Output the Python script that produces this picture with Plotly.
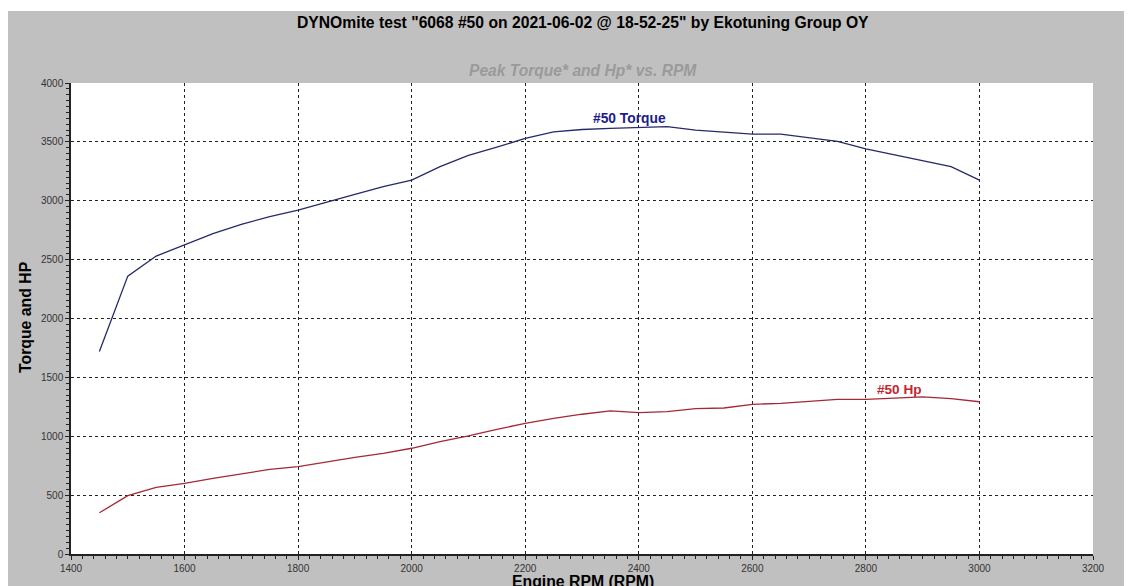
import plotly.graph_objects as go

rpm = [1450, 1500, 1550, 1600, 1650, 1700, 1750, 1800, 1850, 1900, 1950, 2000,
       2050, 2100, 2150, 2200, 2250, 2300, 2350, 2400, 2450, 2500, 2550, 2600,
       2650, 2700, 2750, 2800, 2850, 2900, 2950, 3000]
torque = [1720, 2360, 2530, 2625, 2720, 2800, 2865, 2920, 2990, 3055, 3120, 3175,
          3290, 3385, 3455, 3530, 3585, 3605, 3615, 3620, 3630, 3600, 3585, 3565,
          3565, 3535, 3505, 3440, 3390, 3340, 3290, 3175]
hp = [350, 495, 565, 600, 643, 680, 718, 742, 784, 820, 855, 898,
      955, 1003, 1058, 1110, 1152, 1187, 1215, 1200, 1209, 1234, 1240, 1271,
      1280, 1300, 1314, 1314, 1324, 1334, 1320, 1293]

title_text = 'DYNOmite test "6068 #50 on 2021-06-02 @ 18-52-25" by Ekotuning Group OY'
subtitle_text = "Peak Torque* and Hp* vs. RPM"
x_title = "Engine RPM (RPM)"
y_title = "Torque and HP"
torque_label = "#50 Torque"
hp_label = "#50 Hp"
footnote = "* Correction Method: Standard"

FONT = "Liberation Sans, Arial, sans-serif"
W, H = 1124, 578
L, R, T, B = 63, 39, 75, 32
PW, PH = W - L - R, H - T - B


def px(xp):
    # page pixel -> paper x (page has 8px body margin)
    return (xp - 8 - L) / PW


def py(yp):
    return (H - B - (yp - 8)) / PH


fig = go.Figure()
fig.add_trace(go.Scatter(x=rpm, y=torque, mode="lines",
                         line=dict(color="#26296b", width=1.3), showlegend=False))
fig.add_trace(go.Scatter(x=rpm, y=hp, mode="lines",
                         line=dict(color="#a32a35", width=1.3), showlegend=False))

ann = [
    dict(text="<b>" + title_text + "</b>", x=px(583), y=py(22),
         font=dict(size=15.7, color="#000000")),
    dict(text="<b><i>" + subtitle_text + "</i></b>", x=px(583), y=py(70),
         font=dict(size=15.6, color="#9a9a9a")),
    dict(text="<b>" + x_title + "</b>", x=px(583), y=py(581),
         font=dict(size=15.8, color="#000000")),
    dict(text="<b>" + y_title + "</b>", x=px(25), y=py(318), textangle=-90,
         font=dict(size=15.8, color="#000000")),
    dict(text=footnote, x=px(36), y=py(590), xanchor="left",
         font=dict(size=10, color="#777777")),
]
annotations = []
for a in ann:
    base = dict(xref="paper", yref="paper", showarrow=False,
                xanchor="center", yanchor="middle")
    base.update(a)
    base["font"] = dict(family=FONT, **a["font"])
    annotations.append(base)

annotations.append(dict(x=2383, y=3700, xref="x", yref="y", text="<b>" + torque_label + "</b>",
                        showarrow=False, font=dict(family=FONT, size=13.8, color="#1c1c8a")))
annotations.append(dict(x=2860, y=1393, xref="x", yref="y", text="<b>" + hp_label + "</b>",
                        showarrow=False, font=dict(family=FONT, size=13.6, color="#c3262e")))

shapes = [
    dict(type="rect", xref="paper", yref="paper", x0=px(0), x1=px(1140),
         y0=py(11), y1=py(0), fillcolor="white", line=dict(width=0), layer="above"),
]

fig.update_layout(
    width=W, height=H, autosize=False,
    margin=dict(l=L, r=R, t=T, b=B, pad=0),
    paper_bgcolor="#c0c0c0", plot_bgcolor="white",
    annotations=annotations, shapes=shapes,
    font=dict(family=FONT, size=10, color="#333333"),
)
axis_common = dict(
    showline=True, linecolor="#222222", linewidth=1.5,
    showgrid=True, gridcolor="#222222", gridwidth=1, griddash="3px,3px",
    zeroline=False, ticks="outside", ticklen=4, tickcolor="#222222",
    tickfont=dict(family=FONT, size=10, color="#333333"),
)
fig.update_xaxes(range=[1400, 3200], dtick=200, tick0=1400,
                 minor=dict(dtick=20, ticks="outside", ticklen=3, tickcolor="#222222", showgrid=False),
                 **axis_common)
fig.update_yaxes(range=[0, 4000], dtick=500, tick0=0,
                 minor=dict(dtick=50, ticks="outside", ticklen=3, tickcolor="#222222", showgrid=False),
                 **axis_common)

fig.write_html("out.html")
